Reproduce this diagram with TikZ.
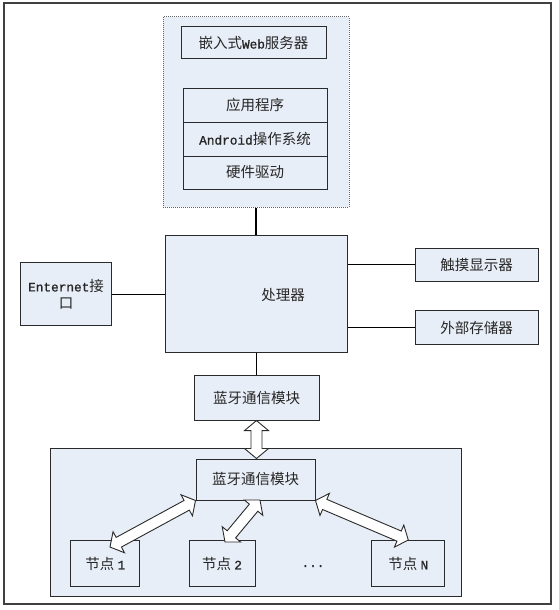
\documentclass[tikz,border=0pt]{standalone}
\usepackage{fontspec}
\setmainfont{Noto Sans CJK SC}
\newfontfamily\lat{Liberation Mono}[Scale=0.88, FakeBold=1.2]
\usetikzlibrary{calc}
\definecolor{boxfill}{HTML}{E8EEF7}
\definecolor{linec}{HTML}{2A2A2A}
\tikzset{
  box/.style={draw=linec, line width=1pt, fill=boxfill, inner sep=0pt,
    text=black!85, font=\fontsize{14.5}{17}\selectfont, align=center},
  lbl/.style={inner sep=0pt, text=black!85, font=\fontsize{14.5}{17}\selectfont},
  conn/.style={draw=black, line width=1.4pt},
  darr/.style={draw=linec, line width=0.9pt, fill=white, line join=miter},
}
\newcommand\mydarrow[2]{%
  \draw[darr] (#1)
    -- ($(#1)!10pt!(#2)!12pt!90:(#2)$)
    -- ($(#1)!10pt!(#2)!5.5pt!90:(#2)$)
    -- ($(#2)!10pt!(#1)!5.5pt!-90:(#1)$)
    -- ($(#2)!10pt!(#1)!12pt!-90:(#1)$)
    -- (#2)
    -- ($(#2)!10pt!(#1)!12pt!90:(#1)$)
    -- ($(#2)!10pt!(#1)!5.5pt!90:(#1)$)
    -- ($(#1)!10pt!(#2)!5.5pt!-90:(#2)$)
    -- ($(#1)!10pt!(#2)!12pt!-90:(#2)$)
    -- cycle;}
\begin{document}
\begin{tikzpicture}[x=1pt,y=-1pt]
\useasboundingbox (0,0) rectangle (558,610);
% outer frame
\node[draw=black!75, line width=1.5pt, minimum width=547pt, minimum height=601pt, inner sep=0pt] (frame) at (277.5,303.5) {};
% top group
\node[draw=black!60, line width=1pt, dash pattern=on 1pt off 1pt, fill=boxfill,
      minimum width=186pt, minimum height=190pt, inner sep=0pt] (grp) at (256,112) {};
\node[box, minimum width=145pt, minimum height=32pt] (web) at (253.5,43) {嵌入式{\lat Web}服务器};
\node[box, minimum width=144pt, minimum height=34pt] (app) at (255,105) {应用程序};
\node[box, minimum width=144pt, minimum height=34pt] (andr) at (255,139) {{\lat Android}操作系统};
\node[box, minimum width=144pt, minimum height=33pt] (drv) at (255,172.5) {硬件驱动};
% processor and peripherals
\node[box, minimum width=182pt, minimum height=117.3pt] (cpu) at (256.5,293.7) {};
\node[lbl] (cpul) at (283,295) {处理器};
\node[box, minimum width=91pt, minimum height=63pt] (eth) at (66,294.2) {{\lat Enternet}接\\口};
\node[box, minimum width=123pt, minimum height=33.3pt] (touch) at (476.5,264.7) {触摸显示器};
\node[box, minimum width=123pt, minimum height=33.6pt] (ext) at (476.5,327.5) {外部存储器};
\node[box, minimum width=125pt, minimum height=44.3pt] (bt1) at (256.5,397.9) {蓝牙通信模块};
% connectors
\draw[conn] (grp.south) -- (grp.south |- cpu.north);
\draw[conn] (eth.east) -- (eth.east -| cpu.west);
\draw[conn] (touch.west) -- (touch.west -| cpu.east);
\draw[conn] (ext.west) -- (ext.west -| cpu.east);
\draw[conn] (cpu.south -| bt1.north) -- (bt1.north);
% lower group
\node[draw=linec, line width=1pt, fill=boxfill, minimum width=411pt, minimum height=148pt, inner sep=0pt] (grp2) at (255.5,522) {};
\node[box, minimum width=119pt, minimum height=41pt] (bt2) at (255.5,479.5) {蓝牙通信模块};
\node[box, minimum width=69.3pt, minimum height=45.7pt] (n1) at (105.3,563.8) {节点 {\lat 1}};
\node[box, minimum width=66pt, minimum height=45.7pt] (n2) at (222,563.8) {节点 {\lat 2}};
\node[box, minimum width=72.7pt, minimum height=45.7pt] (nN) at (408.3,563.8) {节点 {\lat N}};
\node[lbl] (dots) at (313,566) {\lat ...};
% double arrows
\coordinate (v1) at (bt1.south);
\coordinate (v2) at (bt1.south |- bt2.north);
\mydarrow{v1}{v2}
\coordinate (a1) at (110,547);
\coordinate (b1) at (bt2.south west);
\mydarrow{a1}{b1}
\coordinate (a2) at (225,542);
\coordinate (b2) at (260,500);
\mydarrow{a2}{b2}
\coordinate (aN) at (408.3,540);
\coordinate (bN) at (bt2.south east);
\mydarrow{aN}{bN}
\end{tikzpicture}
\end{document}
